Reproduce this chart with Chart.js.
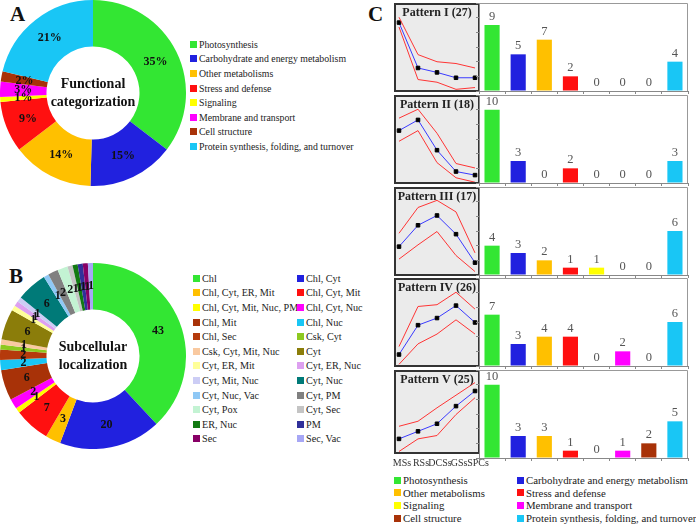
<!DOCTYPE html>
<html>
<head>
<meta charset="utf-8">
<script src="https://cdn.jsdelivr.net/npm/chart.js@4.4.1/dist/chart.umd.min.js"></script>
<style>
body { margin: 0; background: #fff; font-family: 'Liberation Serif', 'Times New Roman', serif; }
#page { position: relative; width: 696px; height: 525px; overflow: hidden; }
.box { position: absolute; }
.letter { position: absolute; font-weight: bold; font-size: 21px; color: #111; }
.legend { position: absolute; color: #222; white-space: nowrap; }
.legend .item { display: flex; align-items: center; }
.legend .sw { display: inline-block; flex-shrink: 0; width: 7px; height: 7px; margin-right: 2px; }
</style>
</head>
<body>
<div id="page">
  <div class="letter" style="left:10px;top:2px;">A</div>
  <div class="letter" style="left:9px;top:264px;">B</div>
  <div class="letter" style="left:368px;top:2px;">C</div>
  <div class="box" style="left:0;top:0;width:186px;height:186px;"><canvas id="funcChart"></canvas></div>
  <div class="box" style="left:0;top:263px;width:186px;height:186px;"><canvas id="locChart"></canvas></div>
  <div class="legend" id="funcLegend" style="left:190px;top:37px;font-size:9.8px;"></div>
  <div class="legend" id="locLegend" style="left:193px;top:271px;font-size:10.2px;"></div>
  <div class="legend" id="patternLegend" style="left:394px;top:474px;font-size:10.8px;"></div>
</div>
<script>
// A - functional categories (counts of proteins, percent labels)
const funcCategories = ['Photosynthesis', 'Carbohydrate and energy metabolism', 'Other metabolisms',
    'Stress and defense', 'Signaling', 'Membrane and transport', 'Cell structure',
    'Protein synthesis, folding, and turnover'];
const funcCounts = [40, 17, 16, 10, 1, 3, 2, 24];
const funcPercents = [35, 15, 14, 9, 1, 3, 2, 21];

// B - subcellular localization
const locCategories = ['Chl', 'Chl, Cyt', 'Chl, Cyt, ER, Mit', 'Chl, Cyt, Mit', 'Chl, Cyt, Mit, Nuc, PM',
    'Chl, Cyt, Nuc', 'Chl, Mit', 'Chl, Nuc', 'Chl, Sec', 'Csk, Cyt', 'Csk, Cyt, Mit, Nuc', 'Cyt',
    'Cyt, ER, Mit', 'Cyt, ER, Nuc', 'Cyt, Mit, Nuc', 'Cyt, Nuc', 'Cyt, Nuc, Vac', 'Cyt, PM',
    'Cyt, Pox', 'Cyt, Sec', 'ER, Nuc', 'PM', 'Sec', 'Sec, Vac'];
const locCounts = [43, 20, 3, 7, 1, 2, 6, 2, 2, 1, 1, 6, 1, 1, 1, 6, 1, 2, 2, 1, 1, 1, 1, 1];

// C - expression patterns
const stageLabels = ['MSs', 'RSs', 'DCSs', 'GSs', 'SPCs'];
const patternNames = ['Pattern I', 'Pattern II', 'Pattern III', 'Pattern IV', 'Pattern V'];
const patternSizes = [27, 18, 17, 26, 25];
const patternMean = [
    [78, 27, 22, 16, 16],
    [60, 72, 38, 14, 10],
    [33, 57, 68, 47, 15],
    [14, 47, 55, 69, 50],
    [18, 27, 36, 57, 75]
];
const patternUpper = [
    [84, 42, 34, 32, 27],
    [74, 84, 57, 23, 18],
    [48, 77, 85, 72, 26],
    [23, 68, 70, 84, 65],
    [33, 39, 55, 70, 85]
];
const patternLower = [
    [73, 14, 11, 3, 5],
    [48, 60, 24, 7, 2],
    [19, 35, 50, 23, 5],
    [3, 26, 37, 53, 37],
    [3, 18, 22, 47, 67]
];
const patternCounts = [
    [9, 5, 7, 2, 0, 0, 0, 4],
    [10, 3, 0, 2, 0, 0, 0, 3],
    [4, 3, 2, 1, 1, 0, 0, 6],
    [7, 3, 4, 4, 0, 2, 0, 6],
    [10, 3, 3, 1, 0, 1, 2, 5]
];

const funcColors = ['#33e633', '#2121df', '#ffc000', '#ff1010', '#ffff00', '#ff00ff', '#a83208', '#19c6f5'];
const locColors = ['#33e633', '#2121df', '#ffc000', '#ff1010', '#ffff00', '#ff00ff', '#a83208', '#19c6f5',
    '#b53a0c', '#8dc920', '#f9c9a0', '#8b7d0a', '#ffff99', '#dda0f0', '#cccdf5', '#007a78',
    '#8fc8f5', '#808080', '#c3f3d3', '#c4c4c4', '#127a12', '#30309a', '#880066', '#a7a7f5'];

const serif = "'Liberation Serif', 'Times New Roman', serif";
const rowTops = [3, 95, 187, 278, 370];
const rowHeight = 89;

Chart.defaults.font.family = serif;
Chart.defaults.animation = false;

const sliceLabels = {
    id: 'sliceLabels',
    afterDatasetsDraw(chart, args, opts) {
        const ctx = chart.ctx;
        ctx.save();
        ctx.font = 'bold 12px ' + serif;
        ctx.fillStyle = '#111';
        ctx.textAlign = 'center';
        ctx.textBaseline = 'middle';
        chart.getDatasetMeta(0).data.forEach((arc, i) => {
            const p = arc.tooltipPosition();
            ctx.fillText(opts.texts[i], p.x, p.y);
        });
        ctx.restore();
    }
};

const centerText = {
    id: 'centerText',
    afterDraw(chart, args, opts) {
        const ctx = chart.ctx;
        const arc = chart.getDatasetMeta(0).data[0];
        ctx.save();
        ctx.font = 'bold 14px ' + serif;
        ctx.fillStyle = '#111';
        ctx.textAlign = 'center';
        ctx.textBaseline = 'middle';
        ctx.fillText(opts.lines[0], arc.x, arc.y - 9);
        ctx.fillText(opts.lines[1], arc.x, arc.y + 9);
        ctx.restore();
    }
};

function makeDoughnut(id, labels, values, colors, texts, lines) {
    new Chart(document.getElementById(id), {
        type: 'doughnut',
        data: {
            labels: labels,
            datasets: [{ data: values, backgroundColor: colors, borderWidth: 0 }]
        },
        options: {
            responsive: true,
            maintainAspectRatio: false,
            cutout: '50%',
            plugins: {
                legend: { display: false },
                tooltip: { enabled: false },
                sliceLabels: { texts: texts },
                centerText: { lines: lines }
            }
        },
        plugins: [sliceLabels, centerText]
    });
}

makeDoughnut('funcChart', funcCategories, funcCounts, funcColors,
    funcPercents.map(v => v + '%'), ['Functional', 'categorization']);
makeDoughnut('locChart', locCategories, locCounts, locColors,
    locCounts.map(v => String(v)), ['Subcellular', 'localization']);

function buildLegend(id, labels, colors, lineHeight, colWidth) {
    const el = document.getElementById(id);
    el.style.display = 'grid';
    el.style.gridTemplateColumns = colWidth.map(w => w + 'px').join(' ');
    labels.forEach((label, i) => {
        const item = document.createElement('div');
        item.className = 'item';
        item.style.height = lineHeight + 'px';
        item.innerHTML = '<span class="sw" style="background:' + colors[i] + '"></span>' + label;
        el.appendChild(item);
    });
}

// legend A is one column, B and C two columns filled row by row
buildLegend('funcLegend', funcCategories, funcColors, 14.6, [160]);
buildLegend('locLegend', locCategories, locColors, 14.6, [104, 100]);
buildLegend('patternLegend', funcCategories, funcColors, 12.6, [123, 180]);

// panel C, line charts with grey box and title
const panelBox = {
    id: 'panelBox',
    beforeDraw(chart, args, opts) {
        const ctx = chart.ctx;
        const a = chart.chartArea;
        ctx.save();
        ctx.fillStyle = '#ebebeb';
        ctx.fillRect(a.left - 5, a.top, a.right - a.left + 10, a.bottom - a.top);
        ctx.restore();
    },
    afterDraw(chart, args, opts) {
        const ctx = chart.ctx;
        const a = chart.chartArea;
        ctx.save();
        ctx.strokeStyle = '#333';
        ctx.lineWidth = 2;
        ctx.strokeRect(a.left - 4, a.top + 1, a.right - a.left + 8, a.bottom - a.top - 2);
        ctx.font = 'bold 12px ' + serif;
        ctx.fillStyle = '#222';
        ctx.textAlign = 'center';
        ctx.textBaseline = 'top';
        ctx.fillText(opts.title, (a.left + a.right) / 2, a.top + 4);
        ctx.restore();
    }
};

const barFrame = {
    id: 'barFrame',
    afterDraw(chart) {
        const ctx = chart.ctx;
        const a = chart.chartArea;
        ctx.save();
        ctx.strokeStyle = '#999';
        ctx.lineWidth = 1;
        ctx.beginPath();
        ctx.moveTo(a.left, a.top + 0.5);
        ctx.lineTo(a.right - 0.5, a.top + 0.5);
        ctx.lineTo(a.right - 0.5, a.bottom);
        ctx.stroke();
        ctx.restore();
    }
};

const barLabels = {
    id: 'barLabels',
    afterDatasetsDraw(chart) {
        const ctx = chart.ctx;
        const values = chart.data.datasets[0].data;
        ctx.save();
        ctx.font = '12.5px ' + serif;
        ctx.fillStyle = '#555';
        ctx.textAlign = 'center';
        ctx.textBaseline = 'bottom';
        chart.getDatasetMeta(0).data.forEach((bar, i) => {
            ctx.fillText(values[i], bar.x, bar.y - 2);
        });
        ctx.restore();
    }
};

const page = document.getElementById('page');
patternNames.forEach((name, i) => {
    const last = i === patternNames.length - 1;
    const lineDiv = document.createElement('div');
    lineDiv.className = 'box';
    lineDiv.style.left = '386px';
    lineDiv.style.top = rowTops[i] + 'px';
    lineDiv.style.width = '108px';
    lineDiv.style.height = (last ? rowHeight + 13 : rowHeight) + 'px';
    lineDiv.innerHTML = '<canvas></canvas>';
    page.appendChild(lineDiv);

    new Chart(lineDiv.querySelector('canvas'), {
        type: 'line',
        data: {
            labels: stageLabels,
            datasets: [
                { data: patternUpper[i], borderColor: '#ff3535', borderWidth: 1, pointRadius: 0, clip: false },
                { data: patternLower[i], borderColor: '#ff3535', borderWidth: 1, pointRadius: 0, clip: false },
                { data: patternMean[i], borderColor: '#3a3aff', borderWidth: 1, pointRadius: 2.5,
                  pointStyle: 'rect', pointBackgroundColor: '#000', pointBorderColor: '#000', clip: false }
            ]
        },
        options: {
            responsive: true,
            maintainAspectRatio: false,
            layout: { autoPadding: false, padding: { left: 13, right: 19, top: 0, bottom: 0 } },
            scales: {
                x: {
                    display: last,
                    offset: false,
                    grid: { display: false, drawTicks: false },
                    border: { display: false },
                    ticks: { color: '#333', font: { size: 10 }, padding: 3, maxRotation: 0,
                             autoSkip: false, labelOffset: 3 }
                },
                y: { display: false, min: 0, max: 100 }
            },
            plugins: {
                legend: { display: false },
                tooltip: { enabled: false },
                panelBox: { title: name + ' (' + patternSizes[i] + ')' }
            }
        },
        plugins: [panelBox]
    });

    const barDiv = document.createElement('div');
    barDiv.className = 'box';
    barDiv.style.left = '476px';
    barDiv.style.top = (rowTops[i] - 1) + 'px';
    barDiv.style.width = '214px';
    barDiv.style.height = (rowHeight + 3) + 'px';
    barDiv.innerHTML = '<canvas></canvas>';
    page.appendChild(barDiv);

    new Chart(barDiv.querySelector('canvas'), {
        type: 'bar',
        data: {
            labels: funcCategories,
            datasets: [{ data: patternCounts[i], backgroundColor: funcColors,
                         barPercentage: 0.58, categoryPercentage: 1 }]
        },
        options: {
            responsive: true,
            maintainAspectRatio: false,
            layout: { autoPadding: false, padding: { left: 0, right: 2, top: 1, bottom: 0 } },
            scales: {
                x: {
                    ticks: { display: false },
                    grid: { drawOnChartArea: false, tickLength: 3, color: '#888' },
                    border: { color: '#888' }
                },
                y: {
                    min: 0, max: 12,
                    ticks: { display: false, stepSize: 2 },
                    grid: { drawOnChartArea: false, tickLength: 3, color: '#888' },
                    border: { color: '#888' }
                }
            },
            plugins: { legend: { display: false }, tooltip: { enabled: false } }
        },
        plugins: [barFrame, barLabels]
    });
});
</script>
</body>
</html>
